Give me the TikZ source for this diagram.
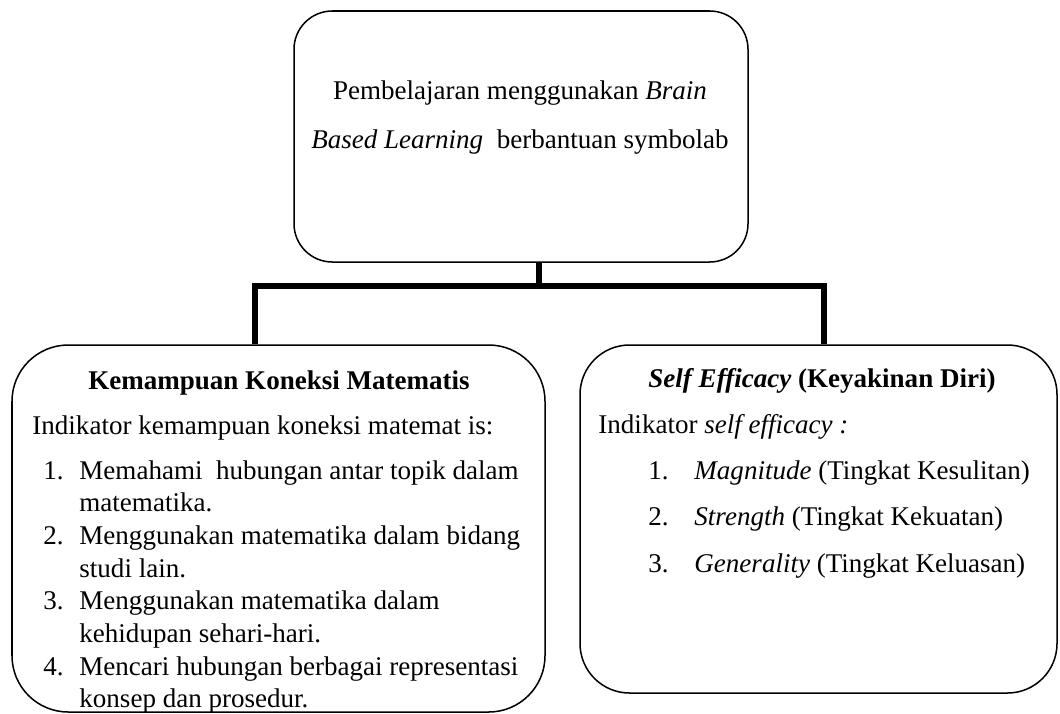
\documentclass[tikz,border=0pt]{standalone}
\usepackage{fontspec}
\setmainfont{Liberation Serif}
\usetikzlibrary{fit}
\tikzset{
    panel/.style={draw,line width=0.67pt,inner sep=0pt,rounded corners=#1},
    link/.style={line width=2.7pt,line join=miter,line cap=butt},
    txt/.style={anchor=base west,inner sep=0pt},
    ctxt/.style={anchor=base,inner sep=0pt}
}

\begin{document}
\begin{tikzpicture}[x=0.444pt,y=-0.444pt,font=\fontsize{12}{14}\selectfont]
    \useasboundingbox (0,0) rectangle (1060,713);
    % boxes
    \node[panel=17pt,fit={(294,11) (748,262)}] (top) {};
    \node[panel=25pt,fit={(12,345) (545,712)}] (kmk) {};
    \node[panel=22pt,fit={(580,345) (1057,693)}] (se) {};
    % connectors
    \coordinate (stub) at (539,286);
    \coordinate (barL) at (255,286);
    \coordinate (barR) at (824,286);
    \draw[link] (top.south -| stub) -- (stub);
    \draw[link] (kmk.north -| barL) |- (barR) -- (se.north -| barR);
    % top
    \node[ctxt] (topa) at (520,99) {Pembelajaran menggunakan \textit{Brain}};
    \node[ctxt] (topb) at (520,148) {\textit{Based Learning}\ \ berbantuan symbolab};
    % left
    \node[ctxt] (kmktitle) at (279,389) {\textbf{Kemampuan Koneksi Matematis}};
    \node[txt] (kmkintro) at (32,434) {Indikator kemampuan koneksi matemat is:};
    \foreach \n/\la/\lb in {
        1/{Memahami\ \ hubungan antar topik dalam}/{matematika.},
        2/{Menggunakan matematika dalam bidang}/{studi lain.},
        3/{Menggunakan matematika dalam}/{kehidupan sehari-hari.},
        4/{Mencari hubungan berbagai representasi}/{konsep dan prosedur.}
    }{
        \node[txt] (kn\n) at (43,{479+65.4*(\n-1)}) {\n.};
        \node[txt] (ka\n) at (79,{479+65.4*(\n-1)}) {\la};
        \node[txt] (kb\n) at (79,{511.7+65.4*(\n-1)}) {\lb};
    }
    % right
    \node[ctxt] (setitle) at (822,387) {\textbf{\textit{Self Efficacy}} \textbf{(Keyakinan Diri)}};
    \node[txt] (seintro) at (598,433) {Indikator \textit{self efficacy :}};
    \foreach \n/\lbl/\rest in {
        1/Magnitude/(Tingkat Kesulitan),
        2/Strength/(Tingkat Kekuatan),
        3/Generality/(Tingkat Keluasan)
    }{
        \node[txt] (sn\n) at (648,{479+46.5*(\n-1)}) {\n.};
        \node[txt] (st\n) at (694,{479+46.5*(\n-1)}) {\textit{\lbl} \rest};
    }
\end{tikzpicture}
\end{document}
